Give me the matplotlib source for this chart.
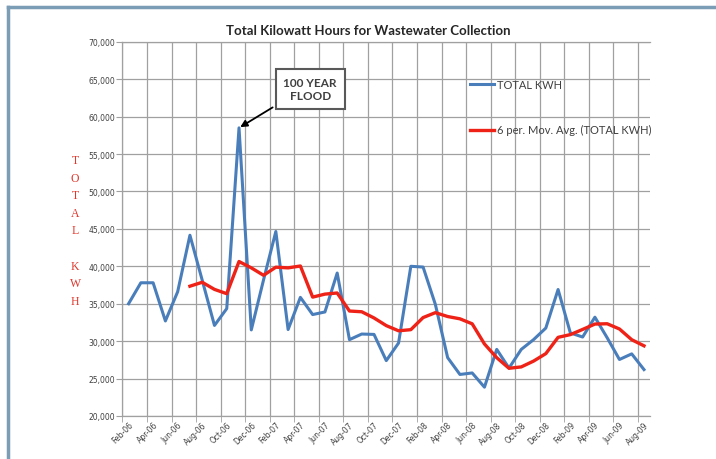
import numpy as np
import pandas as pd
import matplotlib
matplotlib.use("Agg")
from matplotlib import pyplot as plt
from matplotlib.lines import Line2D
from matplotlib.ticker import FuncFormatter

# monthly values Feb-06 .. Aug-09
total_kwh = [35000, 37800, 37800, 32700, 36600, 44150, 38150, 32100, 34350, 58500,
             31500, 38200, 44650, 31550, 35850, 33550, 33900, 39100, 30200, 30950,
             30900, 27400, 29750, 40000, 39900, 34900, 27800, 25550, 25750, 23850,
             28900, 26400, 28900, 30200, 31750, 36900, 31100, 30550, 33200, 30450,
             27550, 28300, 26200]
tick_labels = ["Feb-06", "Apr-06", "Jun-06", "Aug-06", "Oct-06", "Dec-06",
               "Feb-07", "Apr-07", "Jun-07", "Aug-07", "Oct-07", "Dec-07",
               "Feb-08", "Apr-08", "Jun-08", "Aug-08", "Oct-08", "Dec-08",
               "Feb-09", "Apr-09", "Jun-09", "Aug-09"]
flood_month = 9

data = pd.DataFrame({"kwh": total_kwh})
data["avg6"] = data["kwh"].rolling(6).mean()
x = np.arange(len(data))

grid_col = "#a0a0a0"
txt_col = "#404040"

fig = plt.figure(figsize=(7.16, 4.6), dpi=100)
ax = fig.add_axes([0.171, 0.0935, 0.737, 0.8135])

ax.plot(x, data["kwh"], color="#4a7ebb", lw=2.2, label="TOTAL KWH", zorder=3)
ax.plot(x, data["avg6"], color="#ee2217", lw=2.4,
        label="6 per. Mov. Avg. (TOTAL KWH)", zorder=4)

ax.set_xlim(-0.5, len(x) - 0.5)
ax.set_ylim(20000, 70000)
ax.set_yticks(range(20000, 70001, 5000))
ax.yaxis.set_major_formatter(FuncFormatter(lambda v, p: f"{v:,.0f}"))

ax.set_xticks(x[::2])
ax.set_xticklabels(tick_labels, rotation=45, ha="right", rotation_mode="anchor",
                   fontsize=5.5, color=txt_col)
ax.set_xticks(np.arange(-0.5, len(x) - 1, 2), minor=True)
ax.tick_params(axis="x", which="major", length=0, pad=3)
ax.tick_params(axis="x", which="minor", length=4, color=grid_col)
ax.tick_params(axis="y", length=4, color=grid_col, labelsize=5.5,
               labelcolor=txt_col, pad=1)
ax.grid(which="minor", axis="x", color=grid_col, lw=0.9)
ax.grid(which="major", axis="y", color=grid_col, lw=0.9)
for side in ["left", "bottom", "top"]:
    ax.spines[side].set_color(grid_col)
    ax.spines[side].set_linewidth(0.9)
ax.spines["right"].set_visible(False)

ax.annotate("100 YEAR\nFLOOD", xy=(flood_month, total_kwh[flood_month]),
            xytext=(14.8, 63700), ha="center", va="center",
            fontsize=8.5, fontweight="bold", color=txt_col, family="Lato",
            bbox=dict(boxstyle="square,pad=0.65", fc="white", ec="#595959", lw=1.5),
            arrowprops=dict(arrowstyle="-|>", color="black", lw=1.3,
                            mutation_scale=10, relpos=(0, 0), shrinkB=1))

ax.legend(loc="upper left", bbox_to_anchor=(470 / 716, 1 - 80 / 460),
          bbox_transform=fig.transFigure, frameon=False, borderpad=0,
          borderaxespad=0, handlelength=2.2, handletextpad=0.2,
          labelspacing=3.1, prop={"family": "Lato", "size": 8},
          labelcolor=txt_col)

fig.text(0.515, 0.933, "Total Kilowatt Hours for Wastewater Collection",
         ha="center", va="center", fontsize=9.5, fontweight="bold",
         family="Lato", color="#262626")
fig.text(0.105, 0.497, "T\nO\nT\nA\nL\n\nK\nW\nH", ha="center", va="center",
         fontsize=8.5, family="Liberation Serif", color="#e0362c",
         linespacing=1.62)

frame_col = "#7b9db5"
fig.add_artist(Line2D([8 / 716, 8 / 716], [0, 1 - 8 / 460], color=frame_col, lw=2.5))
fig.add_artist(Line2D([8 / 716, 1], [1 - 8 / 460, 1 - 8 / 460], color=frame_col, lw=2.5))

fig.savefig("out.png", dpi=100)
